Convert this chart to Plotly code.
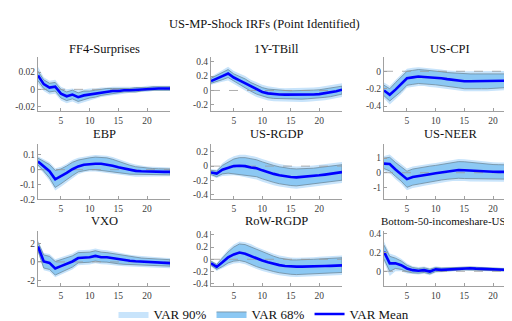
import plotly.graph_objects as go

horizons = list(range(1, 25))
titles = ["FF4-Surprises", "1Y-TBill", "US-CPI", "EBP", "US-RGDP", "US-NEER",
          "VXO", "RoW-RGDP", "Bottom-50-incomeshare-US"]
main_title = "US-MP-Shock IRFs (Point Identified)"
x_ticks = [5, 10, 15, 20]

# ---------- FF4-Surprises ----------
ff4_mean = [0.016, 0.006, 0.002, 0.003, -0.005, -0.008, -0.006, -0.009, -0.007, -0.006, -0.005, -0.004,
            -0.003, -0.002, -0.002, -0.001, -0.001, -0.0005, 0.0, 0.0005, 0.001, 0.001, 0.001, 0.001]
ff4_hi68 = [0.021, 0.011, 0.007, 0.008, 0.000, -0.003, -0.001, -0.004, -0.002, -0.002, -0.001, 0.000,
            0.001, 0.001, 0.001, 0.001, 0.001, 0.002, 0.002, 0.002, 0.003, 0.003, 0.003, 0.003]
ff4_lo68 = [0.010, 0.001, -0.003, -0.002, -0.010, -0.013, -0.011, -0.014, -0.012, -0.010, -0.009, -0.007,
            -0.006, -0.005, -0.004, -0.003, -0.003, -0.003, -0.002, -0.001, -0.001, -0.001, -0.001, -0.001]
ff4_hi90 = [0.026, 0.014, 0.010, 0.011, 0.003, 0.000, 0.001, -0.001, 0.000, 0.001, 0.001, 0.002,
            0.002, 0.003, 0.003, 0.003, 0.003, 0.003, 0.003, 0.004, 0.004, 0.004, 0.004, 0.004]
ff4_lo90 = [0.006, -0.002, -0.006, -0.005, -0.013, -0.016, -0.014, -0.017, -0.015, -0.013, -0.011, -0.009,
            -0.008, -0.007, -0.006, -0.005, -0.004, -0.004, -0.003, -0.003, -0.002, -0.002, -0.002, -0.002]

# ---------- 1Y-TBill ----------
tb_mean = [0.13, 0.17, 0.20, 0.235, 0.18, 0.14, 0.10, 0.05, 0.01, -0.02, -0.04, -0.05,
           -0.055, -0.057, -0.058, -0.058, -0.058, -0.057, -0.055, -0.05, -0.04, -0.025, -0.01, 0.01]
tb_hi68 = [0.17, 0.21, 0.25, 0.29, 0.23, 0.20, 0.16, 0.11, 0.07, 0.04, 0.02, 0.01,
           0.0, 0.0, -0.005, -0.005, -0.005, 0.0, 0.005, 0.01, 0.02, 0.03, 0.04, 0.06]
tb_lo68 = [0.10, 0.13, 0.15, 0.18, 0.13, 0.09, 0.04, -0.01, -0.05, -0.08, -0.10, -0.11,
           -0.115, -0.115, -0.12, -0.12, -0.12, -0.115, -0.11, -0.105, -0.095, -0.085, -0.07, -0.05]
tb_hi90 = [0.19, 0.24, 0.28, 0.33, 0.27, 0.24, 0.20, 0.15, 0.11, 0.08, 0.06, 0.045,
           0.035, 0.03, 0.03, 0.03, 0.03, 0.035, 0.04, 0.05, 0.06, 0.07, 0.08, 0.10]
tb_lo90 = [0.08, 0.10, 0.12, 0.14, 0.09, 0.05, 0.0, -0.05, -0.09, -0.12, -0.14, -0.15,
           -0.155, -0.16, -0.16, -0.16, -0.16, -0.155, -0.15, -0.145, -0.135, -0.12, -0.11, -0.09]

# ---------- US-CPI ----------
cpi_mean = [-0.22, -0.27, -0.21, -0.15, -0.08, -0.07, -0.06, -0.065, -0.07, -0.07, -0.08, -0.09,
            -0.10, -0.11, -0.115, -0.115, -0.115, -0.115, -0.115, -0.115, -0.112, -0.11, -0.108, -0.105]
cpi_hi68 = [-0.16, -0.20, -0.13, -0.07, 0.0, 0.01, 0.02, 0.015, 0.01, 0.005, -0.005, -0.015,
            -0.02, -0.025, -0.03, -0.03, -0.03, -0.03, -0.03, -0.03, -0.03, -0.03, -0.03, -0.03]
cpi_lo68 = [-0.28, -0.34, -0.29, -0.23, -0.16, -0.15, -0.14, -0.145, -0.15, -0.155, -0.16, -0.17,
            -0.18, -0.19, -0.20, -0.20, -0.20, -0.20, -0.20, -0.20, -0.195, -0.19, -0.185, -0.18]
cpi_hi90 = [-0.13, -0.17, -0.10, -0.04, 0.03, 0.04, 0.045, 0.04, 0.035, 0.03, 0.02, 0.01,
            0.005, 0.0, 0.0, 0.0, 0.0, 0.0, 0.0, 0.0, 0.0, 0.0, 0.005, 0.005]
cpi_lo90 = [-0.31, -0.38, -0.32, -0.26, -0.19, -0.18, -0.17, -0.17, -0.18, -0.185, -0.19, -0.20,
            -0.21, -0.22, -0.23, -0.23, -0.23, -0.23, -0.23, -0.23, -0.225, -0.22, -0.215, -0.21]

# ---------- EBP ----------
ebp_mean = [0.055, 0.022, -0.01, -0.065, -0.045, -0.022, 0.003, 0.022, 0.033, 0.038, 0.04, 0.04,
            0.035, 0.027, 0.016, 0.007, -0.001, -0.008, -0.011, -0.013, -0.014, -0.015, -0.015, -0.015]
ebp_hi68 = [0.078, 0.055, 0.035, -0.005, 0.005, 0.025, 0.05, 0.065, 0.075, 0.08, 0.085, 0.085,
            0.08, 0.07, 0.055, 0.04, 0.03, 0.02, 0.015, 0.01, 0.008, 0.006, 0.005, 0.005]
ebp_lo68 = [0.032, -0.01, -0.055, -0.12, -0.095, -0.07, -0.04, -0.015, -0.005, 0.0, 0.0, 0.0,
            -0.005, -0.01, -0.02, -0.025, -0.03, -0.035, -0.035, -0.035, -0.035, -0.035, -0.035, -0.035]
ebp_hi90 = [0.09, 0.07, 0.05, 0.01, 0.02, 0.04, 0.065, 0.08, 0.09, 0.095, 0.1, 0.1,
            0.095, 0.085, 0.07, 0.055, 0.045, 0.035, 0.028, 0.022, 0.02, 0.018, 0.016, 0.015]
ebp_lo90 = [0.02, -0.025, -0.075, -0.14, -0.115, -0.09, -0.06, -0.03, -0.018, -0.012, -0.012, -0.013,
            -0.018, -0.023, -0.03, -0.037, -0.042, -0.047, -0.047, -0.047, -0.047, -0.047, -0.046, -0.045]

# ---------- US-RGDP ----------
rgdp_mean = [-0.09, -0.105, -0.05, -0.02, 0.0, 0.005, 0.0, -0.02, -0.03, -0.06, -0.09, -0.11,
             -0.13, -0.145, -0.155, -0.16, -0.155, -0.15, -0.14, -0.13, -0.12, -0.11, -0.095, -0.085]
rgdp_hi68 = [-0.06, -0.07, 0.01, 0.06, 0.1, 0.12, 0.12, 0.105, 0.09, 0.06, 0.03, 0.01,
             -0.01, -0.025, -0.035, -0.04, -0.04, -0.035, -0.03, -0.02, -0.01, 0.0, 0.01, 0.02]
rgdp_lo68 = [-0.12, -0.15, -0.11, -0.1, -0.1, -0.11, -0.12, -0.14, -0.15, -0.18, -0.21, -0.23,
             -0.25, -0.265, -0.275, -0.28, -0.28, -0.27, -0.26, -0.25, -0.235, -0.22, -0.21, -0.2]
rgdp_hi90 = [-0.04, -0.05, 0.04, 0.1, 0.14, 0.16, 0.16, 0.15, 0.13, 0.1, 0.07, 0.05,
             0.03, 0.01, 0.0, -0.005, -0.005, 0.0, 0.01, 0.02, 0.03, 0.04, 0.05, 0.06]
rgdp_lo90 = [-0.14, -0.17, -0.14, -0.13, -0.13, -0.14, -0.15, -0.17, -0.19, -0.22, -0.25, -0.27,
             -0.29, -0.305, -0.315, -0.32, -0.32, -0.31, -0.3, -0.29, -0.275, -0.26, -0.25, -0.24]

# ---------- US-NEER ----------
neer_mean = [0.62, 0.6, 0.22, -0.08, -0.44, -0.3, -0.22, -0.16, -0.1, -0.04, 0.02, 0.1,
             0.16, 0.18, 0.17, 0.14, 0.11, 0.09, 0.08, 0.07, 0.06, 0.06, 0.06, 0.06]
neer_hi68 = [1.0, 1.05, 0.7, 0.4, 0.1, 0.25, 0.33, 0.4, 0.45, 0.5, 0.56, 0.65,
             0.72, 0.76, 0.75, 0.71, 0.66, 0.62, 0.59, 0.56, 0.55, 0.54, 0.53, 0.52]
neer_lo68 = [0.28, 0.12, -0.25, -0.58, -1.0, -0.85, -0.77, -0.72, -0.65, -0.58, -0.5, -0.45,
             -0.4, -0.38, -0.4, -0.43, -0.45, -0.45, -0.45, -0.45, -0.45, -0.45, -0.45, -0.45]
neer_hi90 = [1.15, 1.25, 0.9, 0.6, 0.28, 0.42, 0.5, 0.56, 0.62, 0.67, 0.73, 0.82,
             0.9, 0.94, 0.93, 0.88, 0.83, 0.78, 0.75, 0.72, 0.7, 0.69, 0.68, 0.67]
neer_lo90 = [0.12, -0.05, -0.45, -0.78, -1.2, -1.05, -0.97, -0.9, -0.83, -0.75, -0.68, -0.62,
             -0.57, -0.55, -0.57, -0.6, -0.62, -0.63, -0.63, -0.63, -0.63, -0.63, -0.62, -0.62]

# ---------- VXO ----------
vxo_mean = [1.65, 0.05, -0.1, -0.7, -0.45, -0.2, 0.05, 0.42, 0.48, 0.5, 0.65, 0.5,
            0.5, 0.4, 0.28, 0.2, 0.13, 0.07, 0.03, 0.0, -0.05, -0.08, -0.1, -0.13]
vxo_hi68 = [2.1, 0.75, 0.6, 0.05, 0.25, 0.45, 0.65, 1.0, 1.05, 1.05, 1.2, 1.05,
            1.0, 0.9, 0.75, 0.65, 0.55, 0.47, 0.42, 0.38, 0.33, 0.3, 0.27, 0.24]
vxo_lo68 = [1.2, -0.65, -0.8, -1.4, -1.15, -0.85, -0.55, -0.1, -0.05, -0.03, 0.1, 0.0,
            -0.02, -0.1, -0.2, -0.25, -0.3, -0.35, -0.37, -0.38, -0.4, -0.42, -0.43, -0.45]
vxo_hi90 = [2.35, 0.95, 0.85, 0.3, 0.5, 0.7, 0.9, 1.25, 1.3, 1.3, 1.45, 1.3,
            1.25, 1.12, 0.98, 0.88, 0.77, 0.68, 0.62, 0.57, 0.52, 0.48, 0.45, 0.42]
vxo_lo90 = [1.0, -0.9, -1.05, -1.65, -1.4, -1.1, -0.8, -0.35, -0.3, -0.28, -0.15, -0.25,
            -0.27, -0.33, -0.42, -0.47, -0.52, -0.56, -0.58, -0.6, -0.62, -0.63, -0.65, -0.67]

# ---------- RoW-RGDP ----------
row_mean = [-0.065, -0.125, -0.05, 0.03, 0.08, 0.11, 0.09, 0.05, 0.015, -0.02, -0.05, -0.075,
            -0.095, -0.11, -0.12, -0.12, -0.12, -0.12, -0.118, -0.115, -0.11, -0.107, -0.103, -0.1]
row_hi68 = [-0.03, -0.085, 0.02, 0.12, 0.2, 0.25, 0.24, 0.2, 0.16, 0.12, 0.08, 0.05,
            0.02, 0.0, -0.01, -0.01, -0.01, -0.005, 0.0, 0.005, 0.01, 0.015, 0.02, 0.025]
row_lo68 = [-0.1, -0.165, -0.12, -0.06, -0.03, -0.02, -0.04, -0.08, -0.12, -0.15, -0.18, -0.2,
            -0.22, -0.235, -0.245, -0.25, -0.25, -0.245, -0.24, -0.235, -0.23, -0.225, -0.22, -0.215]
row_hi90 = [-0.015, -0.065, 0.05, 0.16, 0.24, 0.29, 0.28, 0.25, 0.2, 0.16, 0.12, 0.09,
            0.06, 0.04, 0.03, 0.025, 0.025, 0.03, 0.035, 0.04, 0.045, 0.05, 0.055, 0.06]
row_lo90 = [-0.12, -0.19, -0.15, -0.1, -0.07, -0.06, -0.08, -0.12, -0.16, -0.19, -0.22, -0.24,
            -0.26, -0.275, -0.285, -0.29, -0.29, -0.285, -0.28, -0.275, -0.27, -0.265, -0.26, -0.255]

# ---------- Bottom-50-incomeshare-US ----------
b50_mean = [0.21, 0.085, 0.085, 0.065, 0.03, 0.012, 0.005, 0.012, -0.003, 0.02, 0.015, 0.018,
            0.025, 0.028, 0.03, 0.032, 0.028, 0.025, 0.022, 0.02, 0.018, 0.016, 0.014, 0.012]
b50_hi68 = [0.28, 0.16, 0.14, 0.11, 0.065, 0.04, 0.03, 0.037, 0.022, 0.04, 0.034, 0.036,
            0.042, 0.044, 0.045, 0.046, 0.042, 0.038, 0.035, 0.032, 0.03, 0.027, 0.025, 0.023]
b50_lo68 = [0.13, 0.0, 0.03, 0.02, -0.005, -0.017, -0.02, -0.013, -0.028, -0.003, -0.005, 0.0,
            0.008, 0.012, 0.015, 0.018, 0.014, 0.012, 0.009, 0.008, 0.006, 0.005, 0.003, 0.001]
b50_hi90 = [0.32, 0.19, 0.17, 0.135, 0.085, 0.055, 0.045, 0.05, 0.035, 0.053, 0.046, 0.047,
            0.052, 0.054, 0.055, 0.056, 0.052, 0.048, 0.045, 0.042, 0.039, 0.036, 0.033, 0.031]
b50_lo90 = [0.1, -0.05, 0.0, 0.0, -0.025, -0.033, -0.035, -0.027, -0.042, -0.015, -0.016, -0.01,
            -0.002, 0.002, 0.005, 0.008, 0.005, 0.003, 0.0, -0.002, -0.003, -0.004, -0.005, -0.007]

# y tick labels per panel
y_tickvals = [[-0.02, 0, 0.02], [-0.2, 0, 0.2, 0.4], [-0.4, -0.2, 0],
              [-0.2, -0.1, 0, 0.1], [-0.4, -0.2, 0, 0.2], [-1, 0, 1],
              [-2, 0, 2], [-0.4, -0.2, 0, 0.2, 0.4], [0, 0.2, 0.4]]
y_ticktext = [["-0.02", "0", "0.02"], ["-0.2", "0", "0.2", "0.4"], ["-0.4", "-0.2", "0"],
              ["-0.2", "-0.1", "0", "0.1"], ["-0.4", "-0.2", "0", "0.2"], ["-1", "0", "1"],
              ["-2", "0", "2"], ["-0.4", "-0.2", "0", "0.2", "0.4"], ["0", "0.2", "0.4"]]
y_ranges = [[-0.0255, 0.037], [-0.29, 0.46], [-0.46, 0.16],
            [-0.2, 0.172], [-0.47, 0.31], [-1.82, 1.95],
            [-2.6, 3.3], [-0.44, 0.46], [-0.16, 0.43]]

panels = [
    (ff4_mean, ff4_lo68, ff4_hi68, ff4_lo90, ff4_hi90),
    (tb_mean, tb_lo68, tb_hi68, tb_lo90, tb_hi90),
    (cpi_mean, cpi_lo68, cpi_hi68, cpi_lo90, cpi_hi90),
    (ebp_mean, ebp_lo68, ebp_hi68, ebp_lo90, ebp_hi90),
    (rgdp_mean, rgdp_lo68, rgdp_hi68, rgdp_lo90, rgdp_hi90),
    (neer_mean, neer_lo68, neer_hi68, neer_lo90, neer_hi90),
    (vxo_mean, vxo_lo68, vxo_hi68, vxo_lo90, vxo_hi90),
    (row_mean, row_lo68, row_hi68, row_lo90, row_hi90),
    (b50_mean, b50_lo68, b50_hi68, b50_lo90, b50_hi90),
]

W, H = 512, 321
col_px = [(30, 162), (203, 334), (376, 508)]
row_px = [(49, 105), (139, 196), (229, 286)]
title_py = [40, 128, 219]

LIGHT = "#c8e4fb"
DARK = "#8cc8f3"
EDGE = "#6f8a9c"
FONT = "Liberation Serif"

fig = go.Figure()
annotations = []
layout_axes = {}
rev_h = horizons[::-1]
for i, (mean, lo68, hi68, lo90, hi90) in enumerate(panels):
    r, c = divmod(i, 3)
    n = i + 1
    xa = "x" if n == 1 else f"x{n}"
    ya = "y" if n == 1 else f"y{n}"
    first = (i == 0)
    fig.add_trace(go.Scatter(x=horizons + rev_h, y=hi90 + lo90[::-1], fill="toself",
                             fillcolor=LIGHT, line=dict(width=0, color=LIGHT), mode="lines",
                             name="VAR 90%", showlegend=first, legendrank=1,
                             hoverinfo="skip", xaxis=xa, yaxis=ya))
    fig.add_trace(go.Scatter(x=horizons + rev_h, y=hi68 + lo68[::-1], fill="toself",
                             fillcolor=DARK, line=dict(width=0.8, color=EDGE), mode="lines",
                             name="VAR 68%", showlegend=first, legendrank=2,
                             hoverinfo="skip", xaxis=xa, yaxis=ya))
    fig.add_trace(go.Scatter(x=[horizons[0], horizons[-1]], y=[0, 0], mode="lines",
                             line=dict(color="#9a9a9a", width=0.8, dash="dash"),
                             showlegend=False, hoverinfo="skip", xaxis=xa, yaxis=ya))
    fig.add_trace(go.Scatter(x=horizons, y=mean, mode="lines",
                             line=dict(color="#0000ff", width=2.6),
                             name="VAR Mean", showlegend=first, legendrank=3,
                             xaxis=xa, yaxis=ya))
    x0, x1 = col_px[c]
    y0, y1 = row_px[r]
    axis_common = dict(showgrid=False, zeroline=False, showline=True, linecolor="#a0a0a0",
                       linewidth=1, ticks="inside", ticklen=3, tickcolor="#a0a0a0",
                       tickfont=dict(family=FONT, size=9.5, color="#404040"))
    layout_axes["xaxis" if n == 1 else f"xaxis{n}"] = dict(
        domain=[x0 / W, x1 / W], range=[1, 24], anchor=ya,
        tickvals=x_ticks, ticktext=[str(t) for t in x_ticks], **axis_common)
    layout_axes["yaxis" if n == 1 else f"yaxis{n}"] = dict(
        domain=[1 - y1 / H, 1 - y0 / H], range=y_ranges[i], anchor=xa,
        tickvals=y_tickvals[i], ticktext=y_ticktext[i], **axis_common)
    if i < 8:
        annotations.append(dict(text=titles[i], x=(x0 + x1) / 2 / W, y=1 - title_py[r] / H,
                                xref="paper", yref="paper", showarrow=False,
                                xanchor="center", yanchor="middle",
                                font=dict(family=FONT, size=12.5, color="#111111")))
    else:
        annotations.append(dict(text=titles[i], x=371 / W, y=1 - title_py[r] / H,
                                xref="paper", yref="paper", showarrow=False,
                                xanchor="left", yanchor="middle",
                                font=dict(family=FONT, size=11, color="#111111")))

annotations.append(dict(text=main_title, x=0.5, y=1 - 14 / H, xref="paper", yref="paper",
                        showarrow=False, xanchor="center", yanchor="middle",
                        font=dict(family=FONT, size=12.5, color="#111111")))

fig.update_layout(
    width=W, height=H, margin=dict(l=0, r=0, t=0, b=0),
    paper_bgcolor="white", plot_bgcolor="white",
    font=dict(family=FONT),
    annotations=annotations,
    legend=dict(orientation="h", x=0.5, xanchor="center", y=1 - 315 / H, yanchor="middle",
                font=dict(family=FONT, size=13, color="#111111"),
                itemwidth=30, tracegroupgap=0, bgcolor="rgba(0,0,0,0)"),
    **layout_axes,
)
fig.write_html("out.html")
